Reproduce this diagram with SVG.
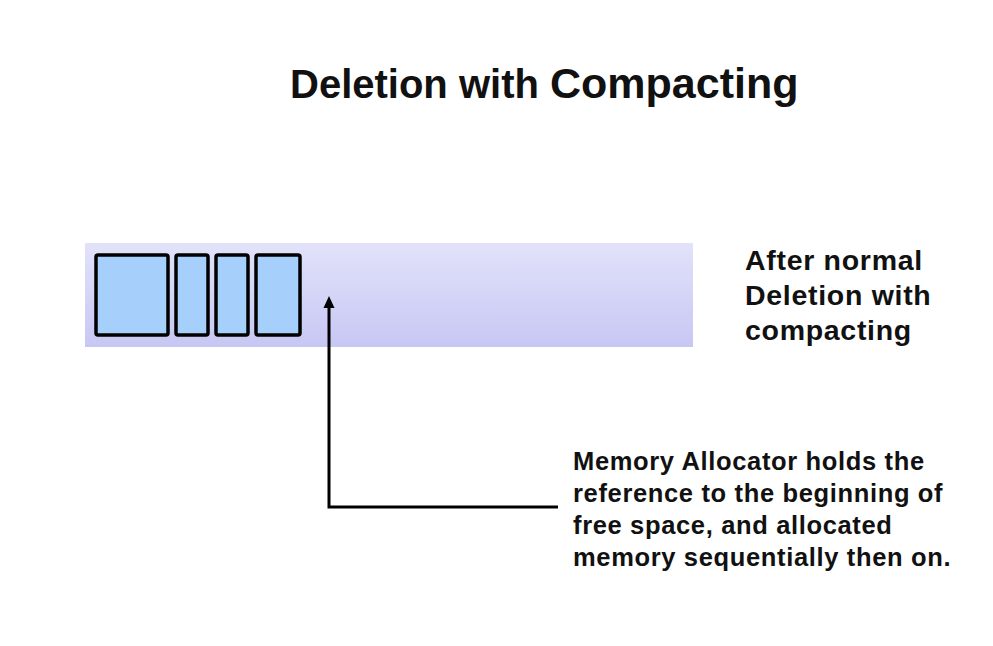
<svg xmlns="http://www.w3.org/2000/svg" width="993" height="646" viewBox="0 0 993 646">
<defs>
<linearGradient id="band" x1="0" y1="0" x2="0" y2="1">
<stop offset="0" stop-color="#e2e2fa"/>
<stop offset="1" stop-color="#c7c7f4"/>
</linearGradient>
<marker id="arr" markerWidth="12" markerHeight="12" refX="6" refY="6" orient="auto" markerUnits="userSpaceOnUse">
<path d="M0,0.5 L12,6 L0,11.5 Z" fill="#000"/>
</marker>
</defs>
<style>
.t{font-family:"Liberation Sans",Arial,sans-serif;font-weight:bold;fill:#111}
.blk{fill:#a6d0fb;stroke:#000;stroke-width:3.5}
.conn{fill:none;stroke:#000;stroke-width:3}
</style>
<rect width="993" height="646" fill="#fff"/>
<text class="t" x="290" y="98" font-size="40">Deletion with <tspan font-size="43">Compacting</tspan></text>
<g id="memory">
<rect x="85" y="243" width="608" height="104" fill="url(#band)"/>
</g>
<g id="block1"><rect class="blk" x="96" y="255" width="72" height="80" rx="2"/></g>
<g id="block2"><rect class="blk" x="176" y="255" width="32" height="80" rx="2"/></g>
<g id="block3"><rect class="blk" x="216" y="255" width="32" height="80" rx="2"/></g>
<g id="block4"><rect class="blk" x="256" y="255" width="44" height="80" rx="2"/></g>
<g id="label1" letter-spacing="0.7">
<text class="t" font-size="28.5" x="745" y="270">After normal</text>
<text class="t" font-size="28.5" x="745" y="305">Deletion with</text>
<text class="t" font-size="28.5" x="745" y="340">compacting</text>
</g>
<g id="callout" letter-spacing="0.65">
<text class="t" font-size="25.5" x="573" y="470">Memory Allocator holds the</text>
<text class="t" font-size="25.5" x="573" y="502">reference to the beginning of</text>
<text class="t" font-size="25.5" x="573" y="534">free space, and allocated</text>
<text class="t" font-size="25.5" x="573" y="566">memory sequentially then on.</text>
</g>
<g id="connectors">
<path class="conn" d="M558,507 L329,507 L329,302" marker-end="url(#arr)"/>
</g>
</svg>
